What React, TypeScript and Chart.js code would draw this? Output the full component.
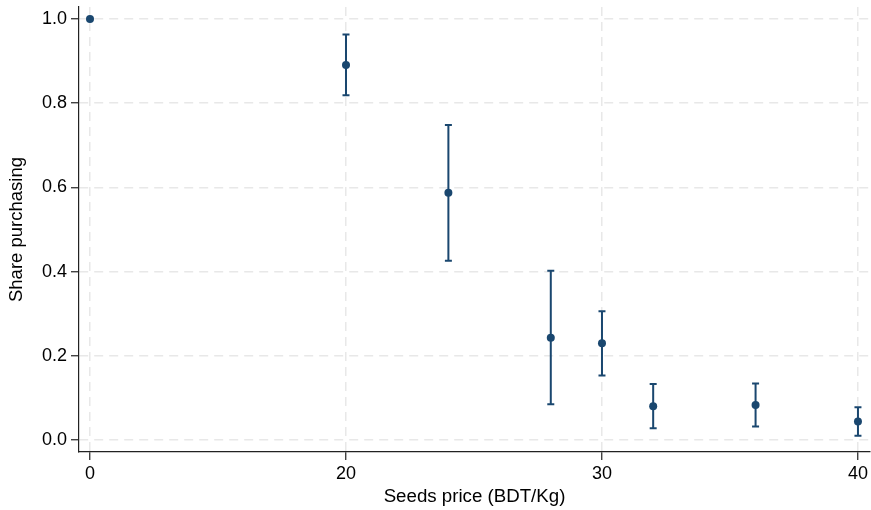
import React, { useEffect, useRef } from "react";
import { Chart, registerables } from "chart.js";

Chart.register(...registerables);

// Seed prices (BDT/Kg); price 0 is drawn at axis position 10 (broken axis in the original)
const prices = [0, 20, 24, 28, 30, 32, 36, 40];
const sharePurchasing = [1.0, 0.891, 0.587, 0.243, 0.230, 0.080, 0.083, 0.044];
const ciLower: (number | null)[] = [null, 0.819, 0.426, 0.085, 0.153, 0.028, 0.032, 0.010];
const ciUpper: (number | null)[] = [null, 0.963, 0.748, 0.402, 0.306, 0.133, 0.134, 0.078];

const xTickPositions = [10, 20, 30, 40];
const xTickLabels = ["0", "20", "30", "40"];
const yTickValues = [0, 0.2, 0.4, 0.6, 0.8, 1.0];

const ZERO_POSITION = 10;
const toAxis = (p: number) => (p === 0 ? ZERO_POSITION : p);

const NAVY = "#1a476f";
const FONT = "'Liberation Sans', Arial, Helvetica, sans-serif";

const errorBarPlugin = {
  id: "errorBars",
  beforeDatasetsDraw(chart: any) {
    const { ctx, scales } = chart;
    const xs = scales.x;
    const ys = scales.y;
    ctx.save();
    ctx.strokeStyle = NAVY;
    ctx.lineWidth = 2;
    const cap = 3.5;
    prices.forEach((p, i) => {
      const lo = ciLower[i];
      const hi = ciUpper[i];
      if (lo == null || hi == null) return;
      const px = xs.getPixelForValue(toAxis(p));
      const yl = ys.getPixelForValue(lo);
      const yh = ys.getPixelForValue(hi);
      ctx.beginPath();
      ctx.moveTo(px, yl);
      ctx.lineTo(px, yh);
      ctx.moveTo(px - cap, yl);
      ctx.lineTo(px + cap, yl);
      ctx.moveTo(px - cap, yh);
      ctx.lineTo(px + cap, yh);
      ctx.stroke();
    });
    ctx.restore();
  },
};

export default function App() {
  const ref = useRef<HTMLCanvasElement | null>(null);

  useEffect(() => {
    if (!ref.current) return;
    const chart = new Chart(ref.current, {
      type: "scatter",
      data: {
        datasets: [
          {
            data: prices.map((p, i) => ({ x: toAxis(p), y: sharePurchasing[i] })),
            backgroundColor: NAVY,
            borderColor: NAVY,
            borderWidth: 0,
            pointRadius: 4,
            pointHoverRadius: 4,
          },
        ],
      },
      options: {
        animation: false,
        responsive: false,
        layout: { autoPadding: false, padding: { top: 7, right: 1, left: 0, bottom: 0 } },
        plugins: {
          legend: { display: false },
          tooltip: { enabled: false },
        },
        scales: {
          x: {
            type: "linear",
            min: 9.57,
            max: 40.47,
            afterBuildTicks: (s: any) => {
              s.ticks = xTickPositions.map((v) => ({ value: v }));
            },
            afterFit: (s: any) => {
              s.height = 58;
              s.paddingLeft = 0;
              s.paddingRight = 0;
              s.paddingTop = 0;
              s.paddingBottom = 0;
            },
            ticks: {
              autoSkip: false,
              maxRotation: 0,
              padding: 3,
              color: "#000",
              font: { family: FONT, size: 18 },
              callback: (v: any) => {
                const idx = xTickPositions.indexOf(Number(v));
                return idx >= 0 ? xTickLabels[idx] : "";
              },
            },
            grid: {
              color: "#e8e8e8",
              lineWidth: 1.5,
              tickLength: 8,
              tickColor: "#222",
              tickWidth: 1.2,
              tickBorderDash: [],
            },
            border: { display: true, color: "#222", width: 1.2, dash: [9, 6] },
            title: {
              display: true,
              text: "Seeds price (BDT/Kg)",
              color: "#000",
              font: { family: FONT, size: 18.7 },
              padding: { top: 0, bottom: 2 },
            },
          },
          y: {
            type: "linear",
            min: -0.0285,
            max: 1.0285,
            afterBuildTicks: (s: any) => {
              s.ticks = yTickValues.map((v) => ({ value: v }));
            },
            afterFit: (s: any) => {
              s.width = 79;
              s.paddingLeft = 0;
              s.paddingRight = 0;
              s.paddingTop = 0;
              s.paddingBottom = 0;
            },
            ticks: {
              padding: 4,
              color: "#000",
              font: { family: FONT, size: 18 },
              callback: (v: any) => Number(v).toFixed(1),
            },
            grid: {
              color: "#e8e8e8",
              lineWidth: 1.5,
              tickLength: 8,
              tickColor: "#222",
              tickWidth: 1.2,
              tickBorderDash: [],
            },
            border: { display: true, color: "#222", width: 1.2, dash: [9, 6] },
            title: {
              display: true,
              text: "Share purchasing",
              color: "#000",
              font: { family: FONT, size: 18.5 },
              padding: { top: 6, bottom: 0 },
            },
          },
        },
      },
      plugins: [errorBarPlugin],
    });
    return () => chart.destroy();
  }, []);

  return (
    <div style={{ position: "absolute", left: 0, top: 0, width: 871, height: 510, background: "#fff" }}>
      <canvas ref={ref} width={871} height={510} />
    </div>
  );
}
